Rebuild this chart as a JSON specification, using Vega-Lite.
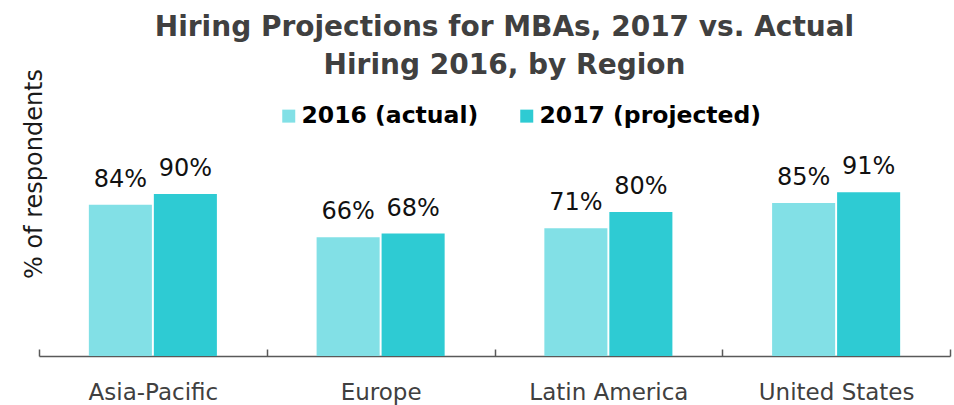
{
  "$schema": "https://vega.github.io/schema/vega-lite/v6.json",
  "autosize": {"type": "none"},
  "width": 911,
  "height": 180,
  "padding": {"left": 39, "top": 176, "right": 4, "bottom": 49},
  "background": "white",
  "title": {
    "text": ["Hiring Projections for MBAs, 2017 vs. Actual", "Hiring 2016, by Region"],
    "font": "DejaVu Sans",
    "fontSize": 28,
    "fontWeight": "bold",
    "color": "#404040",
    "lineHeight": 38,
    "anchor": "middle",
    "frame": "group",
    "offset": 0,
    "dy": 12,
    "dx": 10
  },
  "data": {
    "values": [
      {"region": "Asia-Pacific", "series": "2016 (actual)", "pct": 0.84},
      {"region": "Asia-Pacific", "series": "2017 (projected)", "pct": 0.90},
      {"region": "Europe", "series": "2016 (actual)", "pct": 0.66},
      {"region": "Europe", "series": "2017 (projected)", "pct": 0.68},
      {"region": "Latin America", "series": "2016 (actual)", "pct": 0.71},
      {"region": "Latin America", "series": "2017 (projected)", "pct": 0.80},
      {"region": "United States", "series": "2016 (actual)", "pct": 0.85},
      {"region": "United States", "series": "2017 (projected)", "pct": 0.91}
    ]
  },
  "encoding": {
    "x": {
      "field": "region",
      "type": "nominal",
      "sort": null,
      "scale": {"paddingInner": 0, "paddingOuter": 0},
      "axis": {
        "title": null,
        "labelAngle": 0,
        "domain": true,
        "domainColor": "#595959",
        "domainWidth": 1.5,
        "ticks": true,
        "tickColor": "#595959",
        "tickWidth": 1.5,
        "tickSize": -7,
        "tickBand": "extent",
        "labelFont": "DejaVu Sans",
        "labelFontSize": 23,
        "labelColor": "#404040",
        "labelBaseline": "alphabetic",
        "labelPadding": 50,
        "grid": false
      }
    },
    "xOffset": {
      "field": "series",
      "type": "nominal",
      "sort": ["2016 (actual)", "2017 (projected)"],
      "scale": {"paddingInner": 0.03, "paddingOuter": 0.767}
    },
    "y": {
      "field": "pct",
      "type": "quantitative",
      "scale": {"domain": [0, 1], "nice": false},
      "axis": {
        "title": "% of respondents",
        "titleFont": "DejaVu Sans",
        "titleFontSize": 24,
        "titleFontWeight": "normal",
        "titleColor": "#1a1a1a",
        "titleAngle": -90,
        "titleAlign": "center",
        "titleBaseline": "middle",
        "titleX": -5,
        "titleY": -2.5,
        "labels": false,
        "ticks": false,
        "domain": false,
        "grid": false
      }
    }
  },
  "layer": [
    {
      "mark": {"type": "bar"},
      "encoding": {
        "color": {
          "field": "series",
          "type": "nominal",
          "scale": {
            "domain": ["2016 (actual)", "2017 (projected)"],
            "range": ["#82e0e6", "#2ecbd3"]
          },
          "legend": {
            "title": null,
            "orient": "none",
            "legendX": 238,
            "legendY": -72,
            "direction": "horizontal",
            "padding": 0,
            "symbolType": "square",
            "symbolSize": 169,
            "symbolStrokeWidth": 0,
            "symbolOpacity": 1,
            "labelFont": "DejaVu Sans",
            "labelFontSize": 23.5,
            "labelFontWeight": "bold",
            "labelColor": "#000000",
            "labelOffset": 1,
            "columnPadding": 36,
            "labelLimit": 400
          }
        }
      }
    },
    {
      "mark": {
        "type": "text",
        "baseline": "alphabetic",
        "align": "center",
        "dy": -18,
        "font": "DejaVu Sans",
        "fontSize": 24,
        "color": "#111111"
      },
      "encoding": {
        "text": {"field": "pct", "type": "quantitative", "format": ".0%"}
      }
    }
  ],
  "config": {
    "view": {"stroke": null}
  }
}
